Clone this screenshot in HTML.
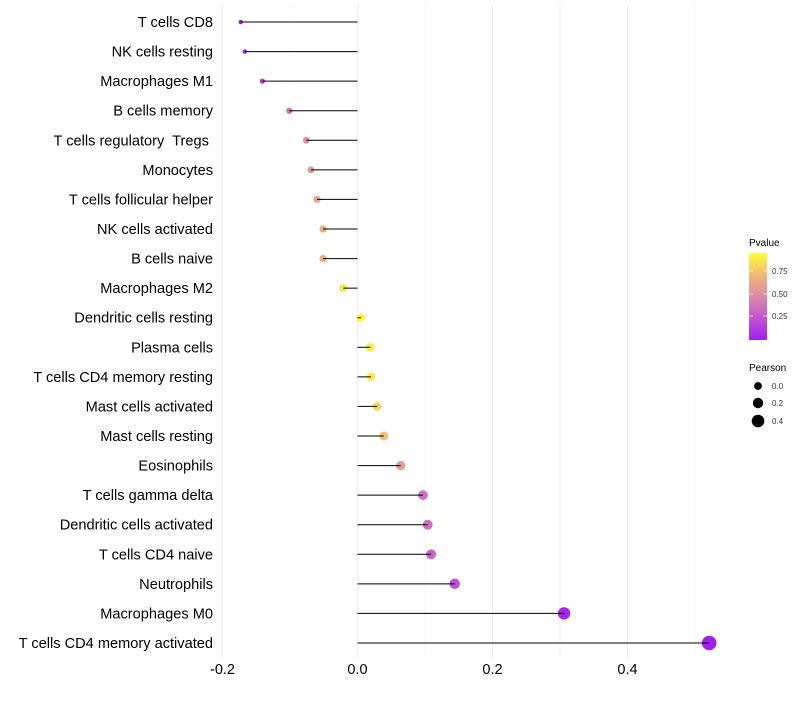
<!DOCTYPE html>
<html><head><meta charset="utf-8"><style>
body{margin:0;background:#fff;font-family:"Liberation Sans",sans-serif}
text{white-space:pre}
</style></head><body>
<svg id="chart" width="800" height="700" xmlns="http://www.w3.org/2000/svg">
<defs><linearGradient id="pg" x1="0" y1="1" x2="0" y2="0">
<stop offset="0" stop-color="#a020f0"/><stop offset="0.3" stop-color="#c860c8"/>
<stop offset="0.5" stop-color="#da8aa6"/><stop offset="0.75" stop-color="#f0b878"/>
<stop offset="1" stop-color="#ffff30"/></linearGradient></defs>
<g id="grid"></g><g id="points"></g><g id="marks"></g><g id="labels"></g>
<g>
<text x="749" y="246" font-size="10">Pvalue</text>
<rect x="749" y="253" width="18" height="87" fill="url(#pg)"/>
<line x1="749" x2="753" y1="271" y2="271" stroke="#fff" stroke-opacity=".6"/><line x1="763" x2="767" y1="271" y2="271" stroke="#fff" stroke-opacity=".6"/>
<line x1="749" x2="753" y1="294" y2="294" stroke="#fff" stroke-opacity=".6"/><line x1="763" x2="767" y1="294" y2="294" stroke="#fff" stroke-opacity=".6"/>
<line x1="749" x2="753" y1="316" y2="316" stroke="#fff" stroke-opacity=".6"/><line x1="763" x2="767" y1="316" y2="316" stroke="#fff" stroke-opacity=".6"/>
<text x="772" y="274" font-size="8" fill="#333">0.75</text>
<text x="772" y="297" font-size="8" fill="#333">0.50</text>
<text x="772" y="319" font-size="8" fill="#333">0.25</text>
</g>
<g>
<text x="749" y="371" font-size="10">Pearson</text>
<circle cx="758" cy="386" r="3.9" fill="#000"/><text x="772" y="389" font-size="8" fill="#333">0.0</text>
<circle cx="758" cy="403" r="5.2" fill="#000"/><text x="772" y="406" font-size="8" fill="#333">0.2</text>
<circle cx="758" cy="421" r="6.3" fill="#000"/><text x="772" y="424" font-size="8" fill="#333">0.4</text>
</g>
</svg>
<script>
const categories=["T cells CD8","NK cells resting","Macrophages M1","B cells memory","T cells regulatory  Tregs ","Monocytes","T cells follicular helper","NK cells activated","B cells naive","Macrophages M2","Dendritic cells resting","Plasma cells","T cells CD4 memory resting","Mast cells activated","Mast cells resting","Eosinophils","T cells gamma delta","Dendritic cells activated","T cells CD4 naive","Neutrophils","Macrophages M0","T cells CD4 memory activated"];
const pearson=[-0.173,-0.167,-0.141,-0.101,-0.076,-0.069,-0.060,-0.051,-0.051,-0.021,0.005,0.019,0.020,0.029,0.039,0.064,0.097,0.104,0.109,0.144,0.306,0.521];
const pvalues=[0.02,0.03,0.15,0.4,0.55,0.58,0.65,0.7,0.7,0.9,0.97,0.93,0.92,0.86,0.78,0.62,0.38,0.36,0.32,0.22,0.02,0.001];
const xTicks=[-0.2,0,0.2,0.4];
const xTickLabels=["-0.2","0.0","0.2","0.4"];
const xMinor=[-0.1,0.1,0.3,0.5];
const NS="http://www.w3.org/2000/svg";
const xs=v=>357.5+v*675;
const ys=i=>22+i*(621/21);
const rs=v=>Math.sqrt(Math.max(1,17+70*v));
const stops=[[0,[160,32,240]],[0.3,[200,96,200]],[0.5,[218,138,166]],[0.75,[240,184,120]],[1,[255,255,48]]];
function col(p){for(let k=1;k<stops.length;k++){if(p<=stops[k][0]){const a=stops[k-1],b=stops[k],t=(p-a[0])/(b[0]-a[0]);return "rgb("+a[1].map((c,j)=>Math.round(c+(b[1][j]-c)*t)).join(",")+")";}}return "rgb(255,255,48)";}
function mk(t,at,parent){const e=document.createElementNS(NS,t);for(const k in at)e.setAttribute(k,at[k]);parent.appendChild(e);return e;}
const grid=document.getElementById("grid"),marks=document.getElementById("marks"),points=document.getElementById("points"),labels=document.getElementById("labels");
xMinor.forEach(v=>{const l=mk("line",{x1:xs(v),x2:xs(v),y1:5,y2:657,stroke:"#f5f5f5","stroke-width":1},grid);

});
xTicks.forEach((v,i)=>{const l=mk("line",{x1:xs(v),x2:xs(v),y1:5,y2:657,stroke:"#ececec","stroke-width":1},grid);


const t=mk("text",{x:xs(v),y:674,"font-size":14.5,"text-anchor":"middle",fill:"#000"},labels);t.textContent=xTickLabels[i];

});
categories.forEach((c,i)=>{const y=ys(i);
const p=mk("circle",{cx:xs(pearson[i]),cy:y,r:rs(pearson[i]),fill:col(pvalues[i])},points);


const s=mk("line",{x1:xs(0),x2:xs(pearson[i]),y1:y,y2:y,stroke:"#000","stroke-width":1},marks);


const t=mk("text",{x:213,y:y+5,"font-size":14.6,"text-anchor":"end",fill:"#000"},labels);t.textContent=c;

});
</script>
</body></html>
